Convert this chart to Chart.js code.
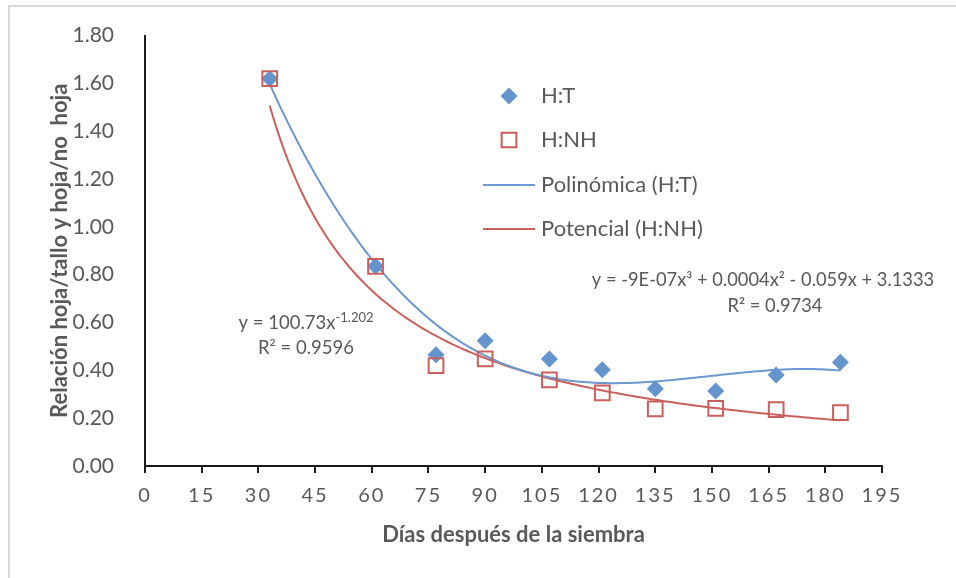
<!DOCTYPE html>
<html>
<head>
<meta charset="utf-8">
<script src="https://cdn.jsdelivr.net/npm/chart.js@4/dist/chart.umd.min.js"></script>
<style>
  html, body { margin: 0; padding: 0; background: #fff; overflow: hidden; }
  #wrap { position: relative; width: 956px; height: 578px; }
  #frame { position: absolute; left: 8px; top: 5px; width: 1000px; height: 1000px;
           border-left: 2px solid #d9d9d9; border-top: 2px solid #d9d9d9; box-sizing: border-box; }
  #c { position: absolute; left: 0; top: 0; }
</style>
</head>
<body>
<div id="wrap">
  <div id="frame"></div>
  <canvas id="c" width="956" height="578"></canvas>
</div>
<script>
// Días después de la siembra
const days = [33, 61, 77, 90, 107, 121, 135, 151, 167, 184];
// Relación hoja/tallo
const hojaTallo = [1.62, 0.835, 0.465, 0.524, 0.448, 0.403, 0.323, 0.314, 0.381, 0.434];
// Relación hoja/no hoja
const hojaNoHoja = [1.62, 0.835, 0.42, 0.448, 0.36, 0.306, 0.239, 0.241, 0.236, 0.223];

const xTicks = [0, 15, 30, 45, 60, 75, 90, 105, 120, 135, 150, 165, 180, 195];
const yTicks = [0, 0.2, 0.4, 0.6, 0.8, 1.0, 1.2, 1.4, 1.6, 1.8];

const seriesNames = ['H:T', 'H:NH', 'Polinómica (H:T)', 'Potencial (H:NH)'];

// power trend y = a·x^b
const powerA = 100.73;
const powerB = -1.202;
const powerR2 = '0.9596';
const polyR2 = '0.9734';
const polyEqText = 'y = -9E-07x³ + 0.0004x² - 0.059x + 3.1333';

const BLUE = '#6494cd';
const BLUE_LINE = '#6a98cf';
const RED = '#c9605d';
const TXT = '#595959';
const FONT = 'Lato, Calibri, "Liberation Sans", sans-serif';

// least-squares polynomial trend (x scaled for stability)
function polyFit(xs, ys, deg) {
  const n = deg + 1, s = 100;
  const A = Array.from({ length: n }, () => new Array(n + 1).fill(0));
  xs.forEach((x, k) => {
    const t = x / s;
    for (let i = 0; i < n; i++) {
      for (let j = 0; j < n; j++) A[i][j] += Math.pow(t, i + j);
      A[i][n] += ys[k] * Math.pow(t, i);
    }
  });
  for (let c = 0; c < n; c++) {
    let p = c;
    for (let r = c + 1; r < n; r++) if (Math.abs(A[r][c]) > Math.abs(A[p][c])) p = r;
    [A[c], A[p]] = [A[p], A[c]];
    for (let r = 0; r < n; r++) {
      if (r === c) continue;
      const f = A[r][c] / A[c][c];
      for (let k = c; k <= n; k++) A[r][k] -= f * A[c][k];
    }
  }
  const coef = A.map((row, i) => row[n] / row[i]);
  return x => coef.reduce((acc, c, i) => acc + c * Math.pow(x / s, i), 0);
}

const cubic = polyFit(days, hojaTallo, 3);
const xFirst = days[0], xLast = days[days.length - 1];
const polyTrend = [], powerTrend = [];
for (let x = xFirst; x <= xLast; x += 1) {
  polyTrend.push({ x, y: cubic(x) });
  powerTrend.push({ x, y: powerA * Math.pow(x, powerB) });
}

const pts = arr => days.map((d, i) => ({ x: d, y: arr[i] }));

// draws a line of text with optional superscript runs, centred on cx
function drawRich(ctx, parts, cx, cy, size) {
  const base = size + 'px ' + FONT;
  const sup = Math.round(size * 0.7) + 'px ' + FONT;
  let w = 0;
  parts.forEach(p => { ctx.font = p.sup ? sup : base; w += ctx.measureText(p.t).width; });
  let x = cx - w / 2;
  ctx.textAlign = 'left';
  ctx.textBaseline = 'alphabetic';
  const baseY = cy + size * 0.35;
  parts.forEach(p => {
    ctx.font = p.sup ? sup : base;
    ctx.fillText(p.t, x, p.sup ? baseY - size * 0.42 : baseY);
    x += ctx.measureText(p.t).width;
  });
}

const overlay = {
  id: 'overlay',
  beforeDraw(chart) {
    const xs = chart.scales.x;
    if (!xs._spaced) {
      const orig = xs.drawLabels;
      xs.drawLabels = function (area) {
        this.ctx.save();
        this.ctx.letterSpacing = '2px';
        orig.call(this, area);
        this.ctx.restore();
      };
      xs._spaced = true;
    }
  },
  afterDraw(chart) {
    const ctx = chart.ctx;
    const ds = chart.data.datasets;
    ctx.save();
    // legend
    const lx = 509, tx = 541, rows = [96, 140, 185, 229];
    ctx.font = '22px ' + FONT;
    ctx.fillStyle = TXT;
    ctx.textAlign = 'left';
    ctx.textBaseline = 'middle';
    rows.forEach((ry, i) => {
      const d = ds[i];
      if (i < 2) {
        ctx.save();
        ctx.fillStyle = d.backgroundColor;
        ctx.strokeStyle = d.borderColor;
        ctx.lineWidth = d.borderWidth;
        Chart.helpers.drawPoint(ctx, { pointStyle: d.pointStyle, radius: d.pointRadius, borderWidth: d.borderWidth }, lx, ry);
        ctx.restore();
      } else {
        ctx.save();
        ctx.strokeStyle = d.borderColor;
        ctx.lineWidth = d.borderWidth;
        ctx.beginPath();
        ctx.moveTo(483, ry);
        ctx.lineTo(535, ry);
        ctx.stroke();
        ctx.restore();
      }
      ctx.fillStyle = TXT;
      ctx.fillText(seriesNames[i], tx, ry);
    });
    // trend equations
    ctx.fillStyle = TXT;
    drawRich(ctx, [{ t: 'y = ' + powerA + 'x' }, { t: String(powerB), sup: true }], 306, 323, 18.5);
    drawRich(ctx, [{ t: 'R² = ' + powerR2 }], 306, 348, 18.5);
    drawRich(ctx, [{ t: polyEqText }], 763, 280, 18.3);
    drawRich(ctx, [{ t: 'R² = ' + polyR2 }], 775, 306, 18.3);
    ctx.restore();
  }
};

new Chart(document.getElementById('c'), {
  type: 'scatter',
  data: {
    datasets: [
      { label: seriesNames[0], data: pts(hojaTallo), pointStyle: 'rectRot', pointRadius: 8.5,
        backgroundColor: BLUE, borderColor: BLUE, borderWidth: 0, order: 1 },
      { label: seriesNames[1], data: pts(hojaNoHoja), pointStyle: 'rect', pointRadius: 10.4,
        backgroundColor: 'rgba(0,0,0,0)', borderColor: RED, borderWidth: 2, order: 0 },
      { label: seriesNames[2], data: polyTrend, showLine: true, pointRadius: 0,
        borderColor: BLUE_LINE, borderWidth: 2, tension: 0, order: 2 },
      { label: seriesNames[3], data: powerTrend, showLine: true, pointRadius: 0,
        borderColor: RED, borderWidth: 2, tension: 0, order: 3 }
    ]
  },
  options: {
    responsive: false,
    animation: false,
    devicePixelRatio: 1,
    layout: { padding: { left: 0, top: 35, right: 74, bottom: 0 } },
    plugins: { legend: { display: false }, tooltip: { enabled: false } },
    scales: {
      x: {
        type: 'linear', min: 0, max: 195,
        afterBuildTicks: s => { s.ticks = xTicks.map(v => ({ value: v })); },
        afterFit: s => { s.height = 112; },
        grid: { display: true, drawOnChartArea: false, drawTicks: true, tickLength: 7, color: '#1a1a1a', lineWidth: 2 },
        border: { display: true, color: '#1a1a1a', width: 2 },
        ticks: { color: TXT, font: { family: FONT, size: 20 }, padding: 11, maxRotation: 0, autoSkip: false },
        title: { display: true, text: 'Días después de la siembra', color: TXT,
                 font: { family: FONT, size: 22, weight: 'bold' }, padding: { top: 0, bottom: 30 } }
      },
      y: {
        type: 'linear', min: 0, max: 1.8,
        afterBuildTicks: s => { s.ticks = yTicks.map(v => ({ value: v })); },
        afterFit: s => { s.width = 145; },
        grid: { display: false },
        border: { display: true, color: '#1a1a1a', width: 2 },
        ticks: { color: TXT, font: { family: FONT, size: 21 }, padding: 23,
                 callback: v => Number(v).toFixed(2) },
        title: { display: true, text: 'Relación hoja/tallo y hoja/no  hoja', color: TXT,
                 font: { family: FONT, size: 22, weight: 'bold' }, padding: { top: 47, bottom: 0 } }
      }
    }
  },
  plugins: [overlay]
});
</script>
</body>
</html>
